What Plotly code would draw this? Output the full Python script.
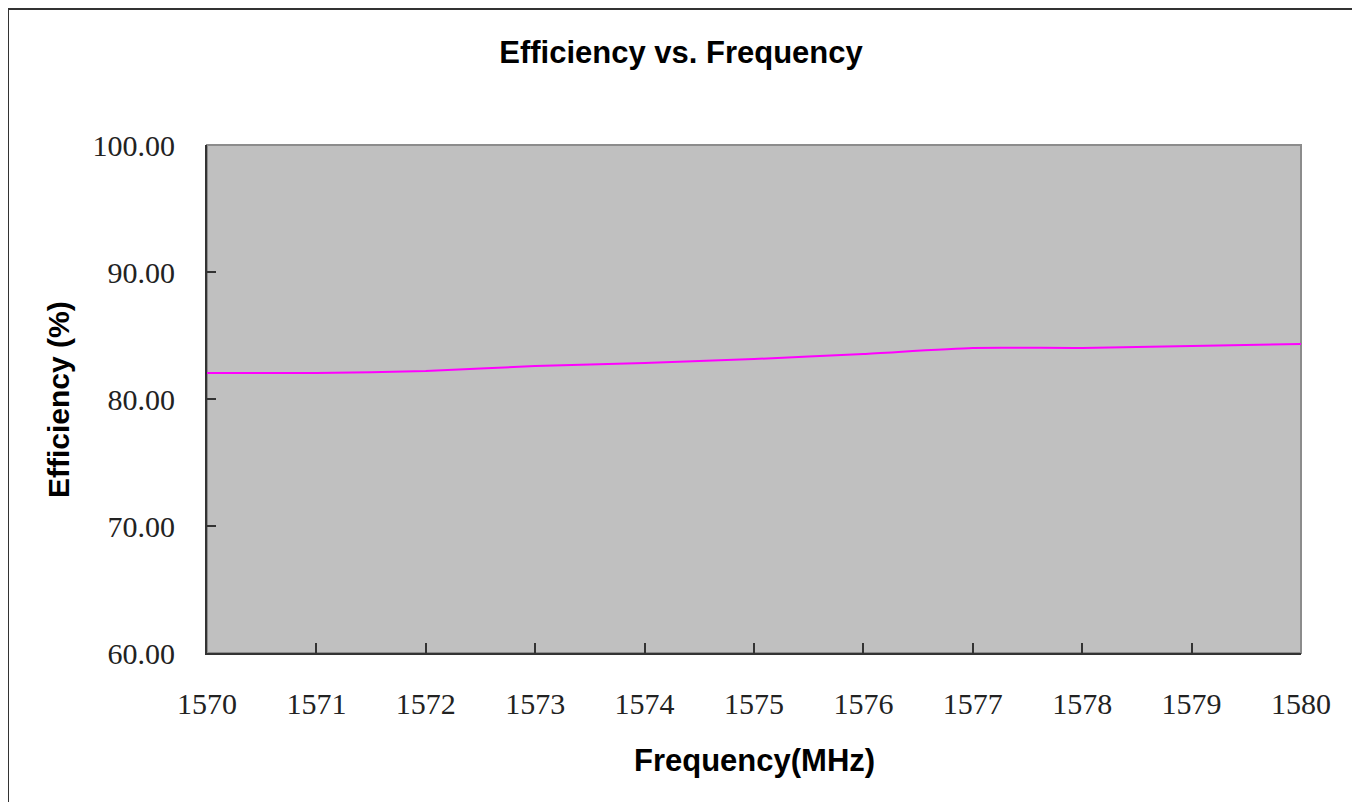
import plotly.graph_objects as go

frequency_mhz = [1570, 1571, 1572, 1573, 1574, 1575, 1576, 1577, 1578, 1579, 1580]
efficiency_pct = [82.05, 82.05, 82.2, 82.6, 82.83, 83.15, 83.55, 84.02, 84.02, 84.17, 84.33]
y_ticks = [60, 70, 80, 90, 100]
y_tick_labels = ["60.00", "70.00", "80.00", "90.00", "100.00"]

W, H = 1360, 802
OX, OY = 8, 8  # page offset compensation
L, R, T, B = 207 - OX, 1301 - OX, 145 - OY, 653 - OY
pw, ph = R - L, B - T

def px(x):
    return (x - OX - L) / pw

def py(y):
    return (B - (y - OY)) / ph

fig = go.Figure()
fig.add_trace(go.Scatter(
    x=frequency_mhz, y=efficiency_pct, mode="lines",
    line=dict(color="#FF00FF", width=2, shape="spline", smoothing=0.6),
    hoverinfo="skip", showlegend=False,
))

tick_font = dict(family="Liberation Serif, Times New Roman, serif", size=30, color="#222222")
bold_font = dict(family="Liberation Sans, Arial, sans-serif", size=31, color="#000000")
ybold_font = dict(family="Liberation Sans, Arial, sans-serif", size=30, color="#000000")

fig.update_layout(
    width=W, height=H,
    margin=dict(l=L, r=W - R, t=T, b=H - B, pad=0),
    paper_bgcolor="white", plot_bgcolor="#C0C0C0",
    title=dict(text="<b>Efficiency vs. Frequency</b>", x=(681 - OX) / W, xref="container",
               xanchor="center", y=1 - (52 - OY) / H, yanchor="middle", font=bold_font),
    xaxis=dict(range=[1570, 1580], tickvals=frequency_mhz, ticktext=[str(f) for f in frequency_mhz],
               ticks="inside", ticklen=10, tickwidth=2, tickcolor="#333333",
               showline=True, linecolor="#333333", linewidth=2, showgrid=False, zeroline=False,
               tickfont=tick_font, ticklabelstandoff=23),
    yaxis=dict(range=[60, 100], tickvals=y_ticks, ticktext=y_tick_labels,
               ticks="inside", ticklen=9, tickwidth=2, tickcolor="#333333",
               showline=True, linecolor="#333333", linewidth=2, showgrid=False, zeroline=False,
               tickfont=tick_font, ticklabelstandoff=24),
    shapes=[
        dict(type="rect", xref="paper", yref="paper", x0=0, x1=1, y0=0, y1=1,
             line=dict(color="#8C8C8C", width=2), layer="below"),
        dict(type="rect", xref="paper", yref="paper", x0=px(8), x1=px(1354), y0=py(840), y1=py(9),
             line=dict(color="#333333", width=2)),
    ],
    annotations=[
        dict(text="<b>Frequency(MHz)</b>", xref="paper", yref="paper", x=px(754.5), y=py(760),
             xanchor="center", yanchor="middle", showarrow=False, font=bold_font),
        dict(text="<b>Efficiency (%)</b>", xref="paper", yref="paper", x=px(58), y=py(400),
             xanchor="center", yanchor="middle", textangle=-90, showarrow=False, font=ybold_font),
    ],
)

fig.write_html("out.html", config={"displayModeBar": False})
